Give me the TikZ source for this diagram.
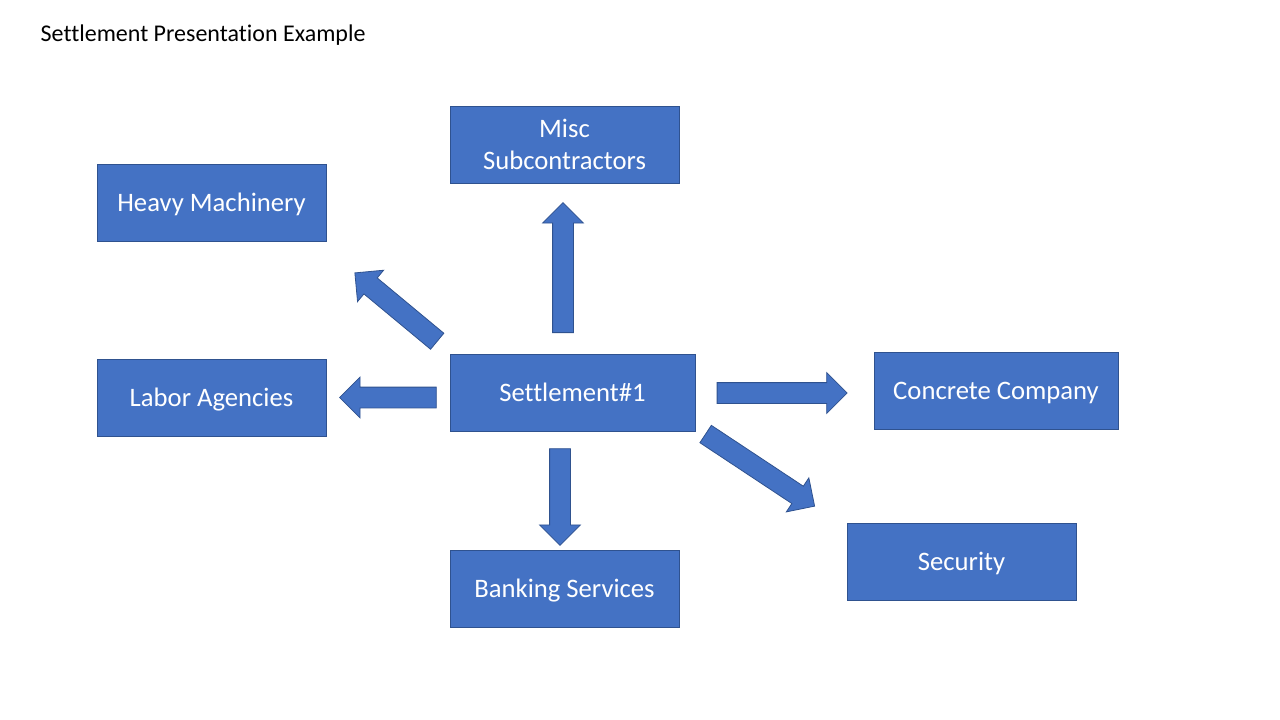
\documentclass[tikz,border=0pt]{standalone}
\usepackage{fontspec}
\setmainfont[Ligatures=NoCommon]{Carlito}
\usetikzlibrary{shapes.arrows}
\definecolor{boxfill}{HTML}{4472C4}
\definecolor{boxline}{HTML}{2F528F}

\begin{document}
\begin{tikzpicture}[x=0.75pt, y=-0.75pt, party/.style={draw=boxline, fill=boxfill, line width=0.6pt, minimum width=171.75pt, minimum height=57.75pt, align=center, text=white, font=\fontsize{20}{23.5}\selectfont, inner sep=0pt, text height=13pt, text depth=0pt}, blockarrow/.style={single arrow, draw=boxline, fill=boxfill, line width=0.6pt, inner xsep=0pt, inner ysep=7.5pt, single arrow head extend=7.5pt, anchor=tail}]

\useasboundingbox (0,0) rectangle (1280,720);

\node[anchor=base west, font=\fontsize{18}{21.6}\selectfont] (title) at (36,41.5) {Settlement Presentation Example};

\node[party, minimum width=183.75pt] (settle) at (572.5,392.5) {Settlement\#1};
\node[party, text height={}, text depth={}] (misc) at (564.5,144.5) {Misc\\Subcontractors};
\node[party] (heavy) at (211.5,202.5) {Heavy Machinery};
\node[party] (labor) at (211.5,397.5) {Labor Agencies};
\node[party, minimum width=183pt] (concrete) at (996,390.5) {Concrete Company};
\node[party] (banking) at (564.5,588.5) {Banking Services};
\node[party] (security) at (961.5,561.5) {Security};

% block arrows out of the settlement, placed by their tails
\node[blockarrow, minimum height=97.5pt, rotate=90] (toMisc) at (563,333) {};
\node[blockarrow, minimum height=80.25pt, rotate=140.3] (toHeavy) at (437.5,341.5) {};
\node[blockarrow, minimum height=72.5pt, rotate=180] (toLabor) at (436.7,397.5) {};
\node[blockarrow, minimum height=97.5pt] (toConcrete) at (716.7,393) {};
\node[blockarrow, minimum height=72.5pt, rotate=-90] (toBanking) at (560,448.3) {};
\node[blockarrow, minimum height=98pt, rotate=-33.5] (toSecurity) at (705.3,433.8) {};

\end{tikzpicture}
\end{document}
